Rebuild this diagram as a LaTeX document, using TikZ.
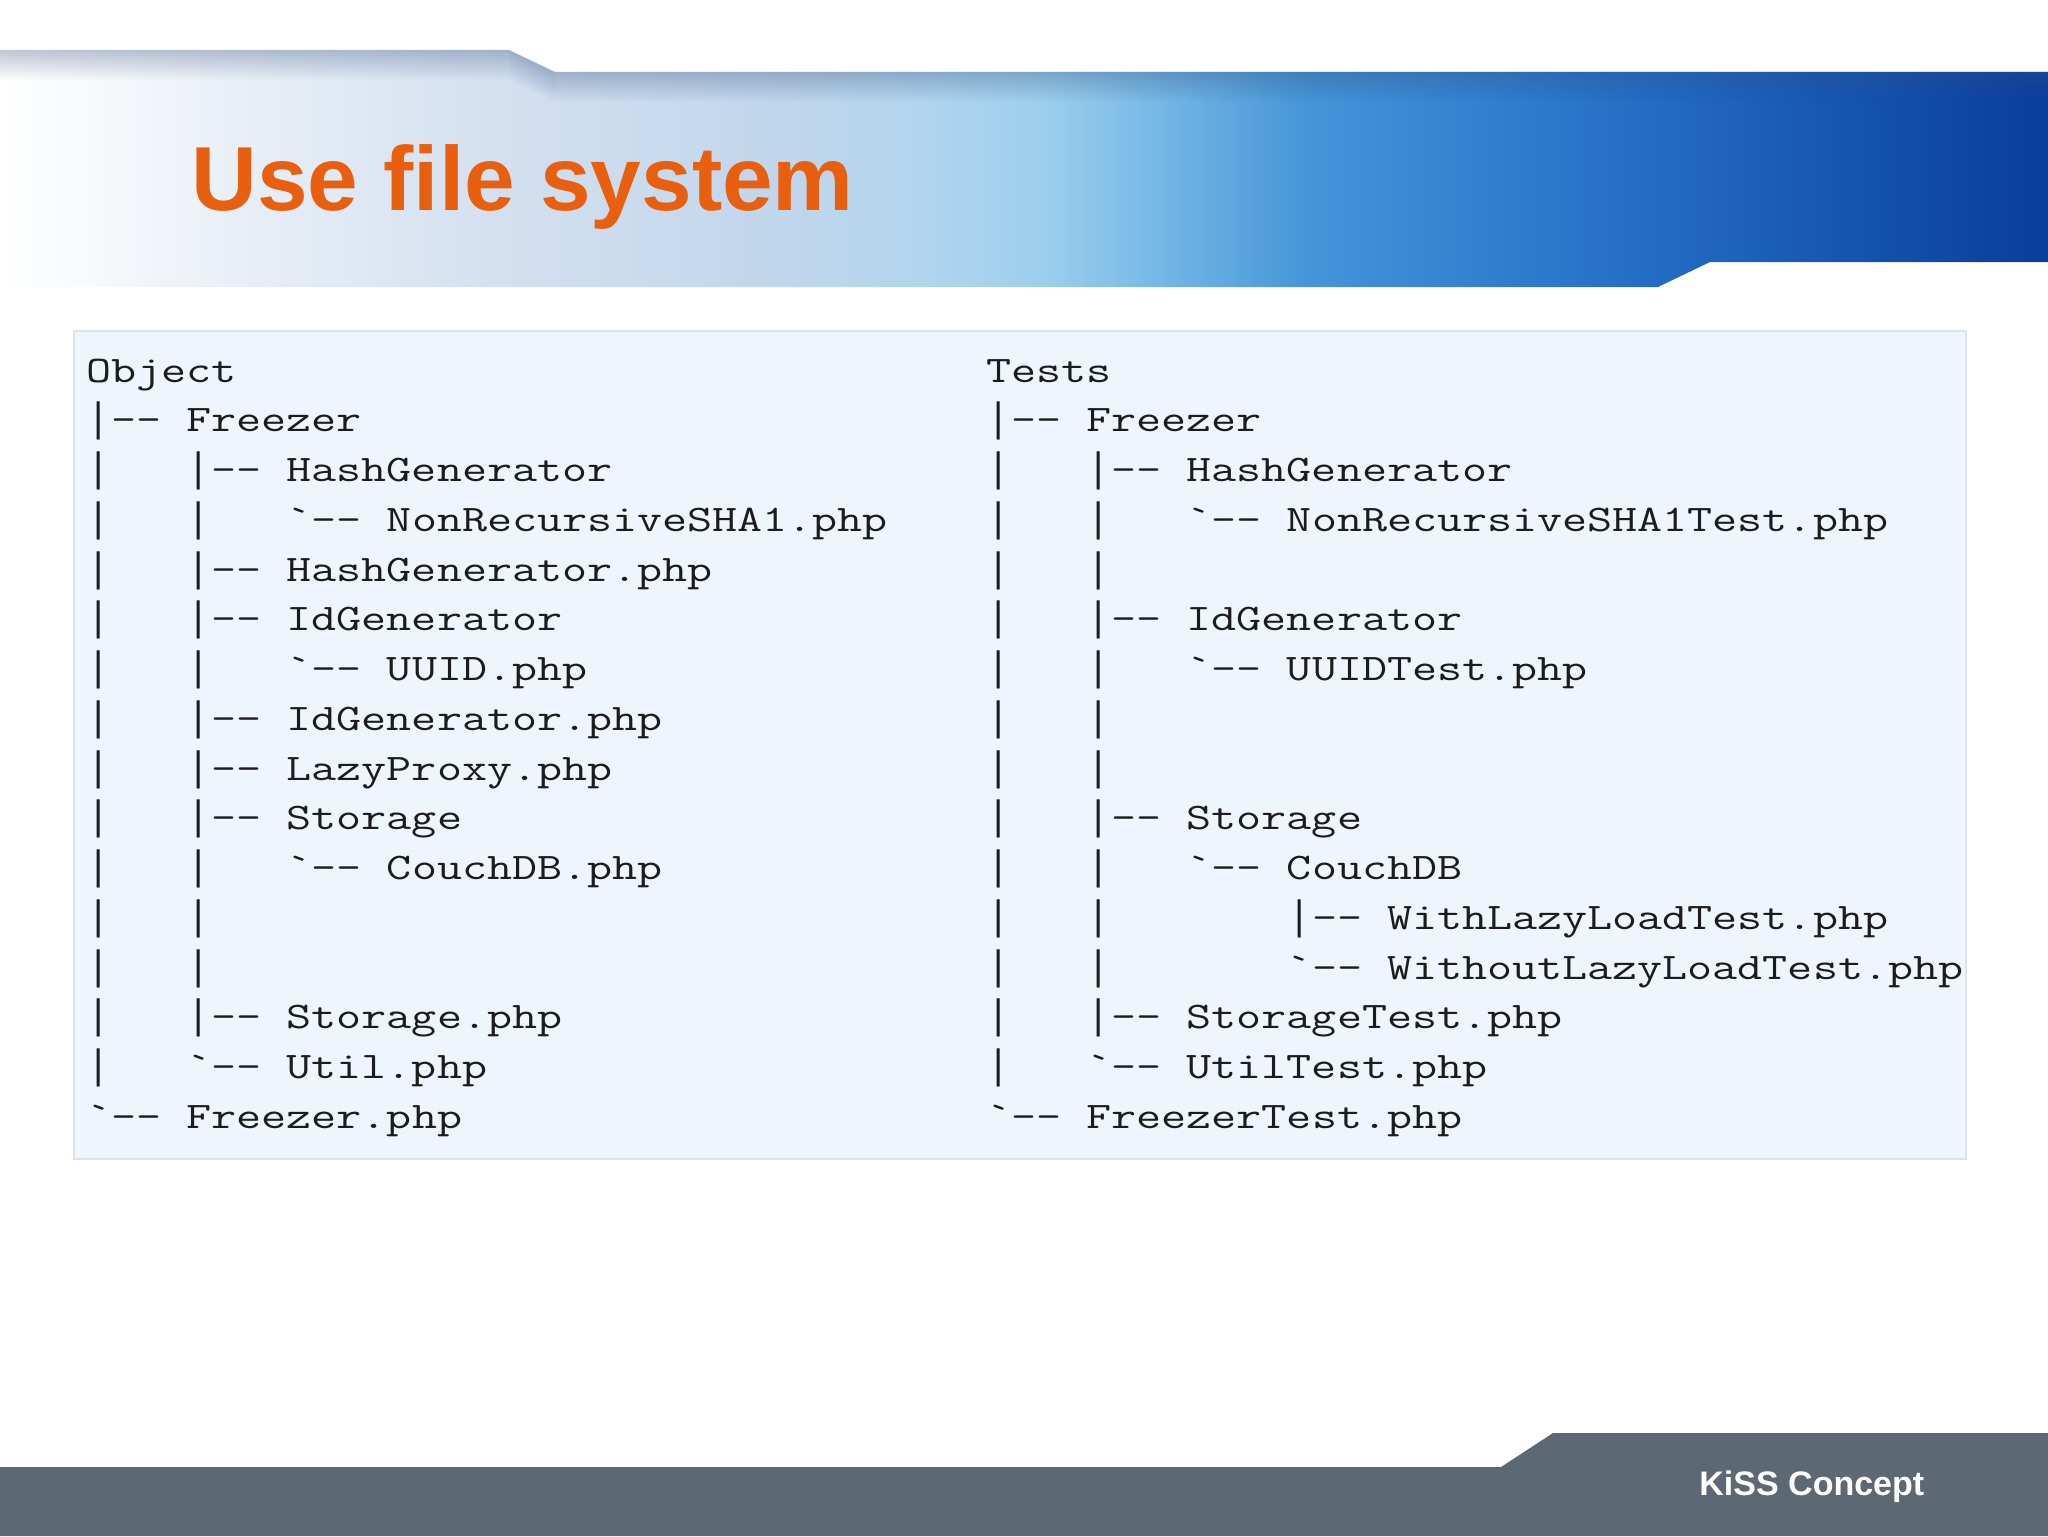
\documentclass[tikz,border=0pt]{standalone}
\usepackage{fontspec}
\newfontfamily\sansfnt{Liberation Sans}
\newfontfamily\barfnt{Liberation Mono}
\definecolor{titleorange}{HTML}{E8600F}
\definecolor{boxfill}{HTML}{EEF5FC}
\definecolor{boxborder}{HTML}{DCE5EE}
\definecolor{codecol}{HTML}{1C1C1C}
\definecolor{footcol}{HTML}{5C6873}
\definecolor{stripcol}{HTML}{34507E}
\definecolor{hA}{HTML}{F4F7FB}
\definecolor{hB}{HTML}{E6EDF6}
\definecolor{hC}{HTML}{D2DFEF}
\definecolor{hD}{HTML}{C0D6EC}
\definecolor{hE}{HTML}{B2D5EE}
\definecolor{hF}{HTML}{9CCFED}
\definecolor{hG}{HTML}{6FB3E4}
\definecolor{hH}{HTML}{4595D8}
\definecolor{hI}{HTML}{2A76CB}
\definecolor{hJ}{HTML}{1657B3}
\definecolor{hK}{HTML}{0B3F9E}
\pgfdeclarehorizontalshading{hdrshade}{100bp}{color(0bp)=(white); color(25bp)=(white); color(28bp)=(hA); color(31.5bp)=(hB); color(37.75bp)=(hC); color(44.15bp)=(hD); color(47.5bp)=(hE); color(50.5bp)=(hF); color(53.75bp)=(hG); color(56.9bp)=(hH); color(63.25bp)=(hI); color(69.65bp)=(hJ); color(74.5bp)=(hK); color(100bp)=(hK)}
\newcommand{\treedash}{-\kern0pt-}
\newcommand{\treegrave}{\textasciigrave}
\newcommand{\treebar}{\leavevmode\hbox to \fontcharwd\font`\x{\hss\scalebox{0.7}[1]{\barfnt\fontsize{20.5}{22}\selectfont|}\hss}}
\newcommand{\codetxt}[1]{\scalebox{1.297}[1]{#1}}
\tikzset{
  codeline/.style={anchor=base west, inner sep=0pt, text=codecol, font=\ttfamily\fontsize{18.75}{22}\selectfont},
}
\begin{document}
\begin{tikzpicture}[x=0.5pt,y=-0.5pt]
\useasboundingbox (0,0) rectangle (2048,1536);
\fill[white] (0,0) rectangle (2048,1536);
% header band
\shade[shading=hdrshade] (0,50) -- (509,50) -- (555,72) -- (2048,72) -- (2048,262) -- (1710,262) -- (1658,287) -- (0,287) -- cycle;
\foreach \k in {0,2,...,28} {
  \pgfmathsetmacro{\op}{0.3*(1-\k/30)}
  \draw[stripcol, opacity=\op, line width=1pt] (0,51+\k) -- (509,51+\k) -- (555,73+\k) -- (2048,73+\k);
}
\node[anchor=base west, inner sep=0pt, text=titleorange, font=\sansfnt\bfseries\fontsize{45.5}{50}\selectfont] (title) at (191,210) {Use file system};
% code box
\draw[boxborder, fill=boxfill, line width=1pt] (74,331) rectangle (1966,1159);
\foreach \t [count=\i] in {Object, \treebar\treedash~Freezer, \treebar~~~\treebar\treedash~HashGenerator, \treebar~~~\treebar~~~\treegrave\treedash~NonRecursiveSHA1.php, \treebar~~~\treebar\treedash~HashGenerator.php, \treebar~~~\treebar\treedash~IdGenerator, \treebar~~~\treebar~~~\treegrave\treedash~UUID.php, \treebar~~~\treebar\treedash~IdGenerator.php, \treebar~~~\treebar\treedash~LazyProxy.php, \treebar~~~\treebar\treedash~Storage, \treebar~~~\treebar~~~\treegrave\treedash~CouchDB.php, \treebar~~~\treebar, \treebar~~~\treebar, \treebar~~~\treebar\treedash~Storage.php, \treebar~~~\treegrave\treedash~Util.php, \treegrave\treedash~Freezer.php}
  \node[codeline] (L\i) at (86,{382+49.75*(\i-1)}) {\codetxt{\t}};
\foreach \t [count=\i] in {Tests, \treebar\treedash~Freezer, \treebar~~~\treebar\treedash~HashGenerator, \treebar~~~\treebar~~~\treegrave\treedash~NonRecursiveSHA1Test.php, \treebar~~~\treebar, \treebar~~~\treebar\treedash~IdGenerator, \treebar~~~\treebar~~~\treegrave\treedash~UUIDTest.php, \treebar~~~\treebar, \treebar~~~\treebar, \treebar~~~\treebar\treedash~Storage, \treebar~~~\treebar~~~\treegrave\treedash~CouchDB, \treebar~~~\treebar~~~~~~~\treebar\treedash~WithLazyLoadTest.php, \treebar~~~\treebar~~~~~~~\treegrave\treedash~WithoutLazyLoadTest.php, \treebar~~~\treebar\treedash~StorageTest.php, \treebar~~~\treegrave\treedash~UtilTest.php, \treegrave\treedash~FreezerTest.php}
  \node[codeline] (R\i) at (986,{382+49.75*(\i-1)}) {\codetxt{\t}};
% footer
\fill[footcol] (0,1467) -- (1501,1467) -- (1553,1433) -- (2048,1433) -- (2048,1536) -- (0,1536) -- cycle;
\node[anchor=base west, inner sep=0pt, text=white, font=\sansfnt\bfseries\fontsize{17}{20}\selectfont] (foot) at (1699,1495) {KiSS Concept};
\end{tikzpicture}
\end{document}
